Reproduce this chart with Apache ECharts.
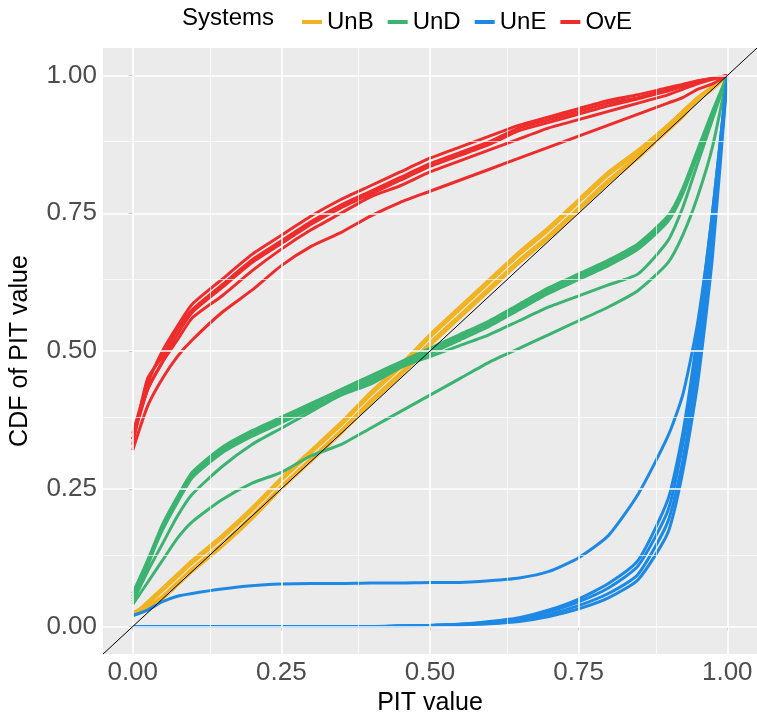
<!DOCTYPE html>
<html>
<head>
<meta charset="utf-8">
<script src="https://cdn.jsdelivr.net/npm/echarts@6/dist/echarts.min.js"></script>
<style>html,body{margin:0;padding:0;background:#fff}#chart{width:757px;height:721px}</style>
</head>
<body>
<div id="chart"></div>
<script>
// PIT grid shared by all curves
var pit = [0, 0.025, 0.05, 0.075, 0.1, 0.15, 0.2, 0.25, 0.3, 0.35, 0.4, 0.45, 0.5, 0.55, 0.6, 0.65, 0.7, 0.75, 0.8, 0.85, 0.9, 0.925, 0.95, 0.975, 1];
var tickLabels = [0, 0.25, 0.5, 0.75, 1];

var unB = [
  [0.02, 0.035, 0.055, 0.08, 0.105, 0.15, 0.20, 0.255, 0.305, 0.355, 0.41, 0.46, 0.515, 0.565, 0.615, 0.665, 0.71, 0.76, 0.81, 0.855, 0.905, 0.93, 0.955, 0.98, 1],
  [0.025, 0.04, 0.065, 0.09, 0.115, 0.16, 0.21, 0.265, 0.315, 0.365, 0.42, 0.47, 0.525, 0.575, 0.625, 0.675, 0.72, 0.77, 0.82, 0.86, 0.91, 0.935, 0.96, 0.98, 1],
  [0.02, 0.045, 0.07, 0.095, 0.12, 0.165, 0.215, 0.27, 0.32, 0.37, 0.425, 0.475, 0.53, 0.58, 0.63, 0.68, 0.725, 0.775, 0.825, 0.865, 0.91, 0.935, 0.96, 0.98, 1],
  [0.02, 0.03, 0.05, 0.075, 0.10, 0.145, 0.195, 0.25, 0.30, 0.35, 0.405, 0.455, 0.51, 0.56, 0.61, 0.66, 0.705, 0.755, 0.805, 0.85, 0.9, 0.925, 0.955, 0.975, 1]
];
var unD = [
  [0.05, 0.11, 0.18, 0.23, 0.275, 0.32, 0.35, 0.375, 0.40, 0.425, 0.45, 0.475, 0.50, 0.525, 0.55, 0.58, 0.61, 0.635, 0.66, 0.69, 0.74, 0.79, 0.86, 0.93, 1],
  [0.06, 0.12, 0.185, 0.235, 0.28, 0.325, 0.355, 0.38, 0.405, 0.43, 0.455, 0.48, 0.505, 0.53, 0.555, 0.585, 0.615, 0.64, 0.665, 0.695, 0.745, 0.795, 0.865, 0.935, 1],
  [0.055, 0.115, 0.175, 0.225, 0.27, 0.315, 0.345, 0.37, 0.395, 0.42, 0.445, 0.47, 0.495, 0.52, 0.545, 0.575, 0.605, 0.63, 0.655, 0.685, 0.735, 0.785, 0.855, 0.925, 1],
  [0.045, 0.10, 0.15, 0.20, 0.24, 0.29, 0.33, 0.36, 0.39, 0.42, 0.44, 0.47, 0.49, 0.51, 0.53, 0.555, 0.58, 0.60, 0.62, 0.64, 0.70, 0.76, 0.84, 0.92, 1],
  [0.04, 0.08, 0.12, 0.16, 0.19, 0.23, 0.26, 0.28, 0.31, 0.33, 0.36, 0.39, 0.42, 0.45, 0.48, 0.505, 0.53, 0.555, 0.58, 0.61, 0.66, 0.71, 0.78, 0.87, 1]
];
var unE = [
  [0, 0, 0, 0, 0, 0, 0, 0, 0, 0, 0, 0.001, 0.002, 0.003, 0.006, 0.011, 0.022, 0.038, 0.06, 0.095, 0.19, 0.30, 0.47, 0.70, 1],
  [0, 0, 0, 0, 0, 0, 0, 0, 0, 0, 0, 0.001, 0.002, 0.004, 0.008, 0.014, 0.027, 0.045, 0.07, 0.11, 0.21, 0.33, 0.50, 0.73, 1],
  [0, 0, 0, 0, 0, 0, 0, 0, 0, 0, 0, 0.001, 0.001, 0.003, 0.005, 0.009, 0.018, 0.032, 0.052, 0.085, 0.17, 0.28, 0.44, 0.67, 1],
  [0, 0, 0, 0, 0, 0, 0, 0, 0, 0, 0, 0.001, 0.002, 0.004, 0.009, 0.016, 0.03, 0.05, 0.078, 0.12, 0.23, 0.35, 0.53, 0.75, 1],
  [0.02, 0.03, 0.045, 0.055, 0.06, 0.068, 0.074, 0.077, 0.078, 0.078, 0.079, 0.079, 0.08, 0.08, 0.083, 0.088, 0.10, 0.125, 0.165, 0.24, 0.345, 0.42, 0.55, 0.75, 1]
];
var ovE = [
  [0.33, 0.45, 0.49, 0.54, 0.575, 0.62, 0.665, 0.70, 0.735, 0.765, 0.79, 0.815, 0.84, 0.86, 0.88, 0.905, 0.92, 0.935, 0.95, 0.96, 0.975, 0.98, 0.99, 0.995, 1],
  [0.35, 0.44, 0.50, 0.545, 0.585, 0.63, 0.675, 0.71, 0.745, 0.775, 0.80, 0.825, 0.85, 0.87, 0.89, 0.91, 0.925, 0.94, 0.955, 0.965, 0.978, 0.984, 0.99, 0.995, 1],
  [0.34, 0.43, 0.48, 0.53, 0.57, 0.615, 0.66, 0.695, 0.73, 0.76, 0.785, 0.81, 0.835, 0.855, 0.875, 0.9, 0.915, 0.93, 0.945, 0.958, 0.972, 0.98, 0.988, 0.994, 1],
  [0.34, 0.43, 0.48, 0.52, 0.56, 0.60, 0.645, 0.685, 0.72, 0.75, 0.78, 0.80, 0.825, 0.845, 0.865, 0.885, 0.905, 0.92, 0.935, 0.95, 0.965, 0.975, 0.985, 0.993, 1],
  [0.32, 0.40, 0.45, 0.49, 0.52, 0.57, 0.61, 0.655, 0.69, 0.715, 0.745, 0.77, 0.79, 0.81, 0.83, 0.85, 0.87, 0.89, 0.91, 0.93, 0.95, 0.96, 0.975, 0.985, 1]
];

var colors = {UnB: '#EFB324', UnD: '#3CB371', UnE: '#1E88E5', OvE: '#EE2C2C'};
var groups = [['UnB', unB], ['UnD', unD], ['UnE', unE], ['OvE', ovE]];

var series = [];
groups.forEach(function (g) {
  g[1].forEach(function (ys) {
    series.push({
      name: g[0], type: 'line', showSymbol: false, silent: true, smooth: 0.2,
      lineStyle: {width: 3, color: colors[g[0]]}, itemStyle: {color: colors[g[0]]},
      data: pit.map(function (x, i) { return [x, ys[i]]; })
    });
  });
});

var major = [0, 0.25, 0.5, 0.75, 1];
var minor = [0.125, 0.375, 0.625, 0.875];
function gl(axis, vals, w) {
  return vals.map(function (v) { var o = {lineStyle: {color: '#fff', width: w, type: 'solid'}}; o[axis] = v; return o; });
}
// background grid lines
series.unshift({
  name: 'grid', type: 'line', data: [], silent: true, z: 0,
  markLine: {silent: true, symbol: 'none', label: {show: false}, animation: false,
    data: gl('xAxis', major, 1.6).concat(gl('xAxis', minor, 0.7), gl('yAxis', major, 1.6), gl('yAxis', minor, 0.7))}
});
// identity line
series.push({
  name: 'diag', type: 'line', showSymbol: false, silent: true, z: 10,
  lineStyle: {width: 1, color: '#000'}, data: [[-0.05, -0.05], [1.05, 1.05]]
});

var option = {
  animation: false,
  grid: {left: 97, right: -3, top: 48, bottom: 54, backgroundColor: '#EBEBEB', show: true, borderWidth: 0},
  legend: {
    data: ['UnB', 'UnD', 'UnE', 'OvE'], top: 5, left: 297,
    icon: 'rect', itemWidth: 20, itemHeight: 4, itemGap: 14,
    textStyle: {fontSize: 24, color: '#000', fontFamily: 'Liberation Sans'}
  },
  graphic: [{type: 'text', left: 182, top: 6, style: {text: 'Systems', fontSize: 24, fill: '#000', fontFamily: 'Liberation Sans'}}],
  xAxis: {
    type: 'value', min: -0.05, max: 1.05,
    name: 'PIT value', nameLocation: 'middle', nameGap: 34,
    nameTextStyle: {fontSize: 25, color: '#000', fontFamily: 'Liberation Sans'},
    axisLine: {show: false}, splitLine: {show: false},
    axisTick: {show: true, length: 4, lineStyle: {color: '#333'}, customValues: tickLabels},
    axisLabel: {fontSize: 26, color: '#4D4D4D', fontFamily: 'Liberation Sans', margin: 6, customValues: tickLabels,
      formatter: function (v) { return v.toFixed(2); }}
  },
  yAxis: {
    type: 'value', min: -0.05, max: 1.05,
    name: 'CDF of PIT value', nameLocation: 'middle', nameGap: 70,
    nameTextStyle: {fontSize: 25, color: '#000', fontFamily: 'Liberation Sans'},
    axisLine: {show: false}, splitLine: {show: false},
    axisTick: {show: true, length: 4, lineStyle: {color: '#333'}, customValues: tickLabels},
    axisLabel: {fontSize: 26, color: '#4D4D4D', fontFamily: 'Liberation Sans', margin: 6, customValues: tickLabels,
      formatter: function (v) { return v.toFixed(2); }}
  },
  series: series
};

var myChart = echarts.init(document.getElementById('chart'));
myChart.setOption(option);
</script>
</body>
</html>
